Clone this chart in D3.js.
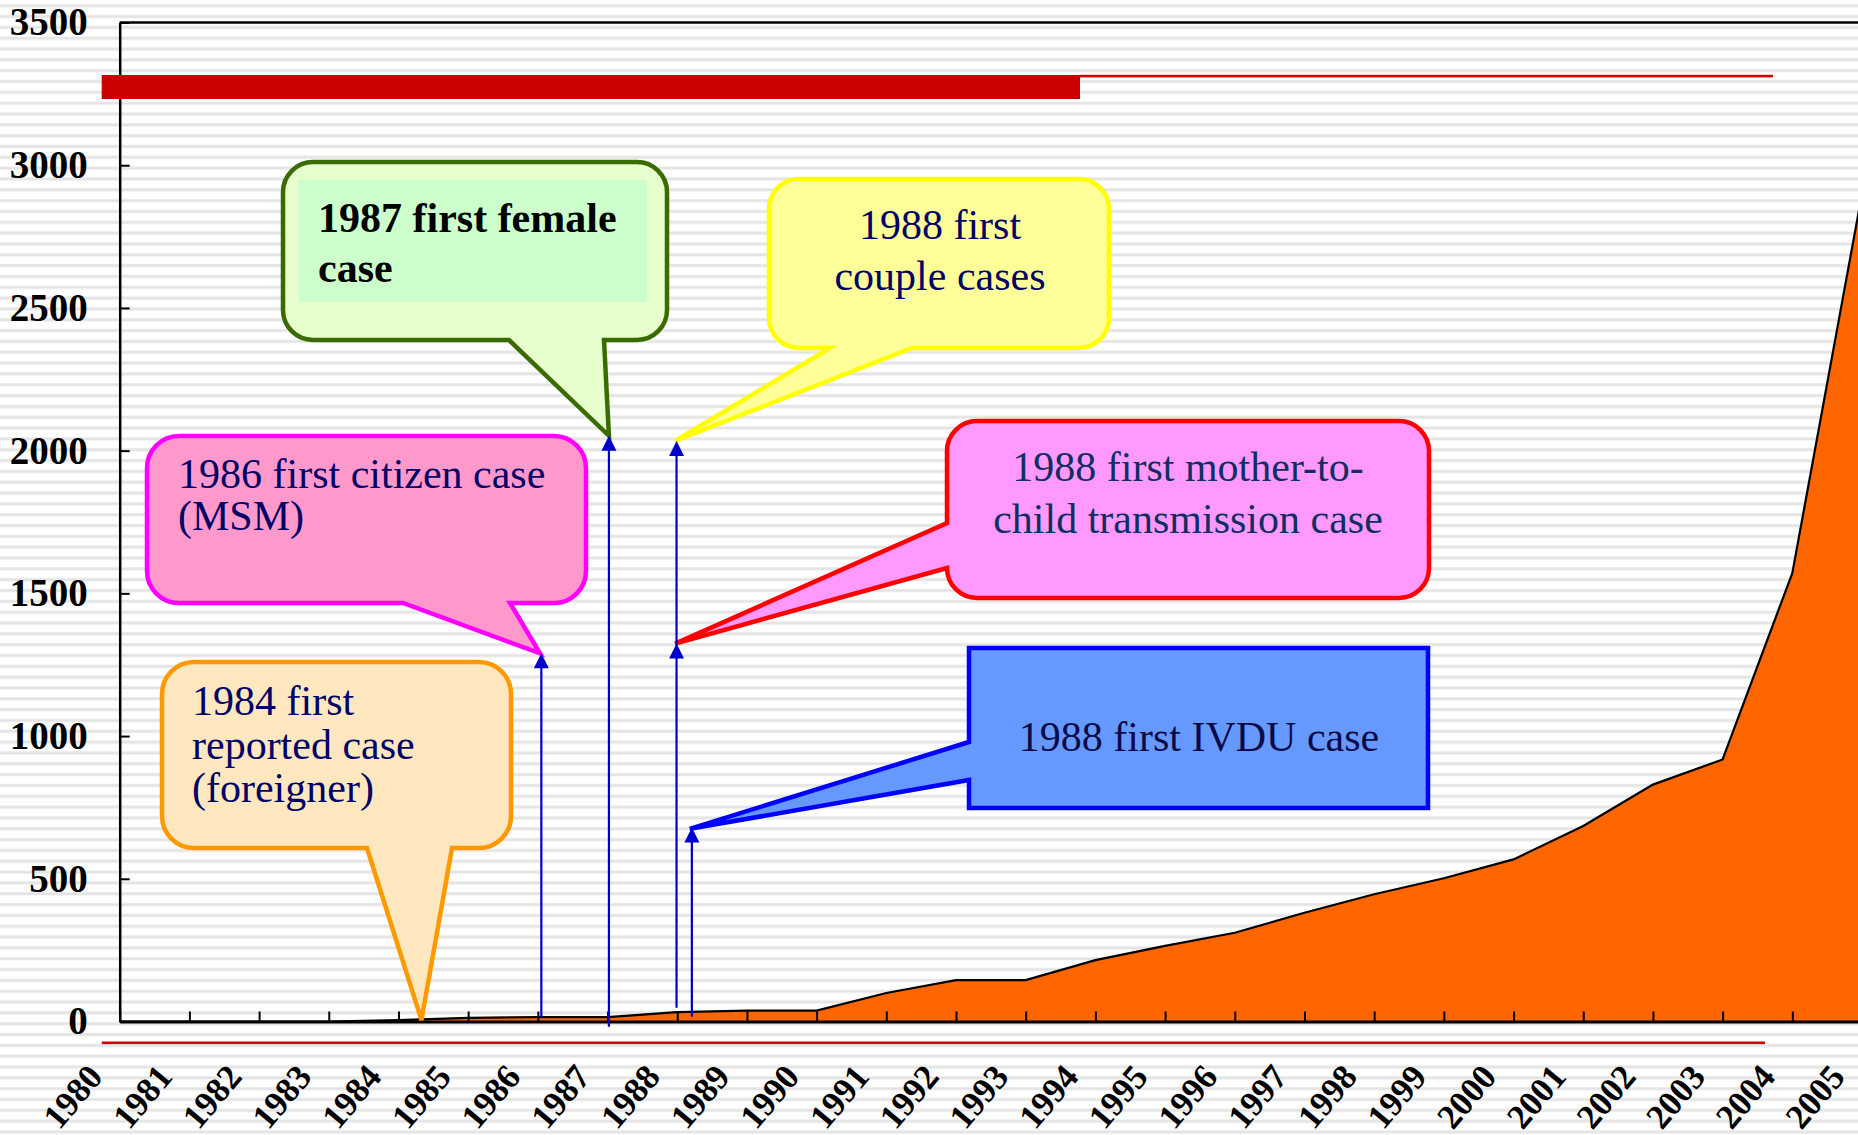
<!DOCTYPE html>
<html>
<head>
<meta charset="utf-8">
<script src="https://cdn.jsdelivr.net/npm/d3@7"></script>
<style>
  body { margin: 0; background: #ffffff; }
  text { font-family: "Liberation Serif", "Times New Roman", serif; }
</style>
</head>
<body>
<div id="chart"></div>
<script>
"use strict";

// reported cases per year
const years = [1980, 1981, 1982, 1983, 1984, 1985, 1986, 1987, 1988, 1989,
    1990, 1991, 1992, 1993, 1994, 1995, 1996, 1997, 1998, 1999,
    2000, 2001, 2002, 2003, 2004, 2005];
const cases = [0, 0, 0, 0, 5, 13, 15, 15, 33, 38,
    38, 100, 145, 145, 215, 265, 311, 381, 446, 502,
    568, 685, 830, 918, 1571, 2900];
const yTicks = [0, 500, 1000, 1500, 2000, 2500, 3000, 3500];

// the blue arrows: year, bottom value, top value, extra heads
const arrowYears = [1986.05, 1987.02, 1987.99, 1988.21];
const arrowFrom = [12, -18, 48, 17];
const arrowTo = [1290, 2052, 2034, 680];
const arrowHeads = [[1290], [2052], [1324, 2034], [680]];

// callout texts and where their pointers land (year, value)
const noteTexts = [
    ["1984 first", "reported case", "(foreigner)"],
    ["1986 first citizen case", "(MSM)"],
    ["1987 first female", "case"],
    ["1988 first", "couple cases"],
    ["1988 first mother-to-", "child transmission case"],
    ["1988 first IVDU case"]
];
const noteYears = [1984.33, 1986.03, 1987.02, 1987.97, 1987.97, 1988.18];
const noteValues = [5, 1290, 2052, 2034, 1324, 675];

const msm = {
    width: 1858,
    height: 1135,
    left: 119.7,
    right: 1862,
    top: 22.5,
    bottom: 1021.5
};

// box layout for each callout
const noteBoxes = [
    {x0: 162, y0: 662, x1: 511, y1: 848, r: 32, side: "bottom", p1: 367, p2: 452,
        fill: "#ffe8bf", stroke: "#ff9900", color: "#000066", anchor: "start", tx: 192, ty: [715, 759, 802], bold: false},
    {x0: 147, y0: 436, x1: 586, y1: 603, r: 32, side: "bottom", p1: 403, p2: 510,
        fill: "#ff99cc", stroke: "#ff00ff", color: "#000066", anchor: "start", tx: 178, ty: [488, 530], bold: false},
    {x0: 283, y0: 162, x1: 667, y1: 340, r: 30, side: "bottom", p1: 509, p2: 604,
        fill: "#e6ffcc", stroke: "#3a6b00", color: "#000000", anchor: "start", tx: 318, ty: [232, 282], bold: true,
        inner: [299, 180, 647, 302]},
    {x0: 769, y0: 179, x1: 1109, y1: 348, r: 30, side: "bottom", p1: 830, p2: 912,
        fill: "#ffff99", stroke: "#ffff00", color: "#000066", anchor: "middle", tx: 940, ty: [239, 290], bold: false},
    {x0: 947, y0: 421, x1: 1429, y1: 598, r: 30, side: "left", p1: 523, p2: 568,
        fill: "#ff99ff", stroke: "#ff0000", color: "#0f2f62", anchor: "middle", tx: 1188, ty: [481, 533], bold: false},
    {x0: 969, y0: 648, x1: 1428, y1: 808, r: 0, side: "left", p1: 742, p2: 780,
        fill: "#6699ff", stroke: "#0000ff", color: "#0a0a48", anchor: "middle", tx: 1199, ty: [751], bold: false}
];

let svg = d3.select("#chart")
    .append("svg")
    .attr("width", msm.width)
    .attr("height", msm.height);

let x = d3.scaleLinear().domain([1980, 2005]).range([msm.left, msm.right]);
let y = d3.scaleLinear().domain([0, 3500]).range([msm.bottom, msm.top]);

drawBackground();
drawArea();
drawAxes();
drawRedBars();
drawNotes();
drawArrows();

function drawBackground() {
    // grey horizontal stripes behind everything
    let defs = svg.append("defs");
    let pat = defs.append("pattern")
        .attr("id", "stripes")
        .attr("patternUnits", "userSpaceOnUse")
        .attr("width", msm.width)
        .attr("height", 10.83);
    pat.append("rect").attr("width", msm.width).attr("height", 10.83).attr("fill", "#ffffff");
    pat.append("rect").attr("y", 4.2).attr("width", msm.width).attr("height", 3).attr("fill", "#e4e4e4");
    svg.append("rect")
        .attr("width", msm.width)
        .attr("height", msm.height)
        .attr("fill", "url(#stripes)");
}

function drawArea() {
    let data = years.map((d, i) => ({year: d, value: cases[i]}));
    let area = d3.area()
        .x(d => x(d.year))
        .y0(y(0))
        .y1(d => y(d.value));
    let line = d3.line()
        .x(d => x(d.year))
        .y(d => y(d.value));
    svg.append("path")
        .datum(data)
        .attr("d", area)
        .attr("fill", "#ff6600");
    svg.append("path")
        .datum(data)
        .attr("d", line)
        .attr("fill", "none")
        .attr("stroke", "#000000")
        .attr("stroke-width", 2.2);
}

function drawAxes() {
    // top frame line
    svg.append("line")
        .attr("x1", msm.left).attr("x2", msm.width)
        .attr("y1", msm.top).attr("y2", msm.top)
        .attr("stroke", "#000").attr("stroke-width", 2.5);

    let yAxis = d3.axisLeft(y)
        .tickValues(yTicks)
        .tickFormat(d3.format("d"))
        .tickSizeInner(-10)
        .tickSizeOuter(0)
        .tickPadding(32);
    let gy = svg.append("g")
        .attr("transform", "translate(" + msm.left + ",0)")
        .call(yAxis);
    gy.select(".domain").attr("stroke-width", 2.5);
    gy.selectAll(".tick line").attr("stroke-width", 2);
    gy.selectAll("text")
        .attr("font-family", "Liberation Serif")
        .style("font-size", "39px")
        .style("font-weight", "bold")
        .attr("fill", "#000");

    let xAxis = d3.axisBottom(x)
        .tickValues(years)
        .tickFormat(d3.format("d"))
        .tickSizeInner(-10)
        .tickSizeOuter(0);
    let gx = svg.append("g")
        .attr("transform", "translate(0," + msm.bottom + ")")
        .call(xAxis);
    gx.select(".domain").attr("stroke-width", 3.2);
    gx.selectAll(".tick line").attr("stroke-width", 2);
    gx.selectAll("text")
        .attr("x", 0).attr("y", 0).attr("dy", 0)
        .attr("transform", "translate(-16,56) rotate(-50)")
        .attr("font-family", "Liberation Serif")
        .style("text-anchor", "end")
        .style("font-size", "35px")
        .style("font-weight", "bold")
        .attr("fill", "#000");
}

function drawRedBars() {
    // thick red bar and thin red lines of the slide
    svg.append("rect")
        .attr("x", 101.7).attr("y", 75)
        .attr("width", 1080 - 101.7).attr("height", 24)
        .attr("fill", "#cc0000");
    svg.append("rect")
        .attr("x", 1080).attr("y", 74.8)
        .attr("width", 1773 - 1080).attr("height", 2.6)
        .attr("fill", "#d40000");
    svg.append("rect")
        .attr("x", 101.8).attr("y", 1041.5)
        .attr("width", 1765 - 101.8).attr("height", 2.6)
        .attr("fill", "#d40000");
}

function calloutPath(b, tip) {
    let p = d3.path();
    let r = b.r;
    p.moveTo(b.x0 + r, b.y0);
    p.lineTo(b.x1 - r, b.y0);
    p.arcTo(b.x1, b.y0, b.x1, b.y0 + r, r);
    p.lineTo(b.x1, b.y1 - r);
    p.arcTo(b.x1, b.y1, b.x1 - r, b.y1, r);
    if (b.side === "bottom") {
        p.lineTo(b.p2, b.y1);
        p.lineTo(tip[0], tip[1]);
        p.lineTo(b.p1, b.y1);
    }
    p.lineTo(b.x0 + r, b.y1);
    p.arcTo(b.x0, b.y1, b.x0, b.y1 - r, r);
    if (b.side === "left") {
        p.lineTo(b.x0, b.p2);
        p.lineTo(tip[0], tip[1]);
        p.lineTo(b.x0, b.p1);
    }
    p.lineTo(b.x0, b.y0 + r);
    p.arcTo(b.x0, b.y0, b.x0 + r, b.y0, r);
    p.closePath();
    return p.toString();
}

function drawNotes() {
    noteBoxes.forEach((b, i) => {
        let tip = [x(noteYears[i]), y(noteValues[i])];
        let g = svg.append("g");
        g.append("path")
            .attr("d", calloutPath(b, tip))
            .attr("fill", b.fill)
            .attr("stroke", b.stroke)
            .attr("stroke-width", 4.5)
            .attr("stroke-linejoin", "miter");
        if (b.inner) {
            g.append("rect")
                .attr("x", b.inner[0]).attr("y", b.inner[1])
                .attr("width", b.inner[2] - b.inner[0])
                .attr("height", b.inner[3] - b.inner[1])
                .attr("fill", "#ccffcc");
        }
        g.selectAll("text")
            .data(noteTexts[i])
            .enter()
            .append("text")
            .attr("x", b.tx)
            .attr("y", (d, j) => b.ty[j])
            .attr("text-anchor", b.anchor)
            .attr("fill", b.color)
            .style("font-size", "42px")
            .style("font-weight", b.bold ? "bold" : "normal")
            .text(d => d);
    });
}

function drawArrows() {
    let blue = "#0000cc";
    arrowYears.forEach((yr, i) => {
        let ax = x(yr);
        svg.append("line")
            .attr("x1", ax).attr("x2", ax)
            .attr("y1", y(arrowFrom[i]))
            .attr("y2", y(arrowTo[i]) + 6)
            .attr("stroke", blue)
            .attr("stroke-width", 2.2);
        arrowHeads[i].forEach(v => {
            let ty = y(v);
            svg.append("path")
                .attr("d", "M" + ax + "," + ty + "L" + (ax + 7.5) + "," + (ty + 15) + "L" + (ax - 7.5) + "," + (ty + 15) + "Z")
                .attr("fill", blue);
        });
    });
}
</script>
</body>
</html>
